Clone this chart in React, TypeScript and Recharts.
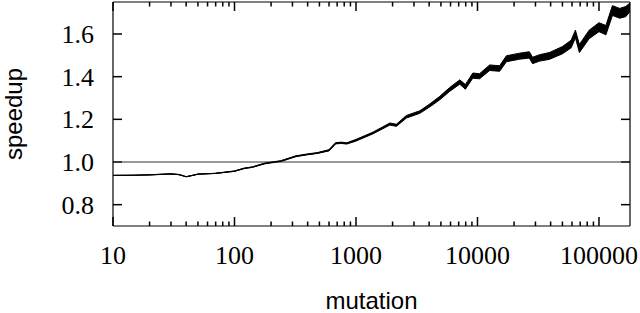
import React from "react";
import {
  ComposedChart,
  Area,
  Line,
  XAxis,
  YAxis,
  ReferenceLine,
  Label,
} from "recharts";

const mutations = [
  10, 15, 20, 30, 35, 40, 45, 50, 70, 100, 120, 140, 180, 240, 320, 400, 480,
  600, 680, 760, 840, 1000, 1380, 1900, 2150, 2600, 3350, 4070, 4900, 5900,
  7150, 7950, 9150, 10400, 12600, 15200, 17300, 22200, 26700, 28400, 32500,
  39000, 50000, 59000, 64000, 69000, 83000, 100000, 114000, 129000, 148000,
  166000, 180000,
];
const speedup = [
  0.937, 0.938, 0.94, 0.944, 0.941, 0.931, 0.937, 0.943, 0.947, 0.957, 0.97,
  0.976, 0.994, 1.004, 1.027, 1.036, 1.042, 1.055, 1.088, 1.09, 1.087, 1.102,
  1.136, 1.178, 1.172, 1.212, 1.234, 1.266, 1.3, 1.34, 1.375, 1.352, 1.405,
  1.402, 1.442, 1.438, 1.484, 1.496, 1.502, 1.476, 1.488, 1.497, 1.524, 1.553,
  1.6, 1.532, 1.598, 1.632, 1.618, 1.71, 1.697, 1.705, 1.725,
];
// half-height of the noisy band around the curve
const spread = [
  0, 0, 0, 0, 0, 0, 0, 0, 0, 0.001, 0.001, 0.001, 0.002, 0.002, 0.002, 0.002,
  0.002, 0.003, 0.003, 0.003, 0.003, 0.004, 0.004, 0.005, 0.005, 0.006, 0.006,
  0.007, 0.008, 0.009, 0.01, 0.011, 0.012, 0.012, 0.013, 0.013, 0.014, 0.014,
  0.015, 0.015, 0.015, 0.016, 0.017, 0.018, 0.018, 0.019, 0.02, 0.021, 0.022,
  0.023, 0.023, 0.024, 0.02,
];

const xMajor = [10, 100, 1000, 10000, 100000];
const xMinor = [10, 100, 1000, 10000, 100000].flatMap((d) =>
  [2, 3, 4, 5, 6, 7, 8, 9].map((k) => k * d).filter((v) => v <= 180000)
);
const yTicks = [0.8, 1.0, 1.2, 1.4, 1.6];

const data = mutations.map((m, i) => ({
  m,
  s: speedup[i],
  band: [speedup[i] - spread[i], speedup[i] + spread[i]],
}));

const serif = "'Liberation Serif', 'Times New Roman', serif";
const sans = "'Liberation Sans', Arial, sans-serif";
const TICK_W = 1.5;

const bottomLabel = (p: any) => (
  <text x={p.x} y={p.y + 38} textAnchor="middle" fontFamily={serif} fontSize={26} fill="#000">
    {p.payload.value}
  </text>
);

const leftLabel = (p: any) => (
  <text x={p.x - 19} y={p.y + 9} textAnchor="end" fontFamily={serif} fontSize={26} fill="#000">
    {p.payload.value.toFixed(1)}
  </text>
);

// inward tick stubs at both ends of a vertical reference line (bottom + top)
const xStub = (len: number) => (props: any) => {
  const { x1, y1, y2 } = props;
  const top = Math.min(y1, y2);
  const bot = Math.max(y1, y2);
  return (
    <g>
      <line x1={x1} x2={x1} y1={bot} y2={bot - len} stroke="#000" strokeWidth={TICK_W} />
      <line x1={x1} x2={x1} y1={top} y2={top + len} stroke="#000" strokeWidth={TICK_W} />
    </g>
  );
};

// inward tick stubs at both ends of a horizontal reference line (left + right)
const yStub = (props: any) => {
  const { x1, x2, y1 } = props;
  const l = Math.min(x1, x2);
  const r = Math.max(x1, x2);
  return (
    <g>
      <line x1={l} x2={l + 9} y1={y1} y2={y1} stroke="#000" strokeWidth={TICK_W} />
      <line x1={r} x2={r - 9} y1={y1} y2={y1} stroke="#000" strokeWidth={TICK_W} />
    </g>
  );
};

const xTitle = ({ viewBox }: any) => (
  <text
    x={viewBox.x + viewBox.width / 2}
    y={viewBox.y + 83}
    textAnchor="middle"
    fontFamily={sans}
    fontSize={24}
    fill="#000"
  >
    mutation
  </text>
);

const yTitle = ({ viewBox }: any) => (
  <text
    transform={`translate(22, ${viewBox.y + viewBox.height / 2}) rotate(-90)`}
    textAnchor="middle"
    fontFamily={sans}
    fontSize={24}
    fill="#000"
  >
    speedup
  </text>
);

export default function App() {
  return (
    <div style={{ position: "absolute", left: 0, top: 0, background: "#fff" }}>
      <ComposedChart
        width={640}
        height={313}
        data={data}
        margin={{ top: 1, right: 9, bottom: 0, left: 0 }}
      >
        <XAxis
          xAxisId="b"
          dataKey="m"
          type="number"
          scale="log"
          domain={[10, 180000]}
          allowDataOverflow
          ticks={xMajor}
          interval={0}
          height={87}
          tickSize={0}
          tickMargin={0}
          tickLine={false}
          tick={bottomLabel}
          axisLine={{ stroke: "#000", strokeWidth: 1.2 }}
        >
          <Label content={xTitle} />
        </XAxis>
        <XAxis
          xAxisId="t"
          orientation="top"
          dataKey="m"
          type="number"
          scale="log"
          domain={[10, 180000]}
          allowDataOverflow
          height={1}
          tick={false}
          tickLine={false}
          axisLine={{ stroke: "#000", strokeWidth: 1.2 }}
        />
        <YAxis
          yAxisId="l"
          type="number"
          domain={[0.7, 1.75]}
          allowDataOverflow
          ticks={yTicks}
          interval={0}
          width={113}
          tickSize={0}
          tickMargin={0}
          tickLine={false}
          tick={leftLabel}
          axisLine={{ stroke: "#000", strokeWidth: 1.2 }}
        >
          <Label content={yTitle} />
        </YAxis>
        <YAxis
          yAxisId="r"
          orientation="right"
          type="number"
          domain={[0.7, 1.75]}
          allowDataOverflow
          width={1}
          tick={false}
          tickLine={false}
          axisLine={{ stroke: "#000", strokeWidth: 1.2 }}
        />
        {xMinor.map((v) => (
          <ReferenceLine key={`mi${v}`} xAxisId="b" yAxisId="l" x={v} shape={xStub(4.5)} />
        ))}
        {xMajor.map((v) => (
          <ReferenceLine key={`ma${v}`} xAxisId="b" yAxisId="l" x={v} shape={xStub(9)} />
        ))}
        {yTicks.map((v) => (
          <ReferenceLine key={`y${v}`} xAxisId="b" yAxisId="l" y={v} shape={yStub} />
        ))}
        <ReferenceLine xAxisId="b" yAxisId="l" y={1} stroke="#333" strokeWidth={1} />
        <Area
          xAxisId="b"
          yAxisId="l"
          dataKey="band"
          type="linear"
          stroke="#000"
          strokeWidth={1}
          fill="#000"
          fillOpacity={1}
          isAnimationActive={false}
        />
        <Line
          xAxisId="b"
          yAxisId="l"
          dataKey="s"
          type="linear"
          stroke="#000"
          strokeWidth={1.2}
          dot={false}
          isAnimationActive={false}
        />
      </ComposedChart>
    </div>
  );
}
